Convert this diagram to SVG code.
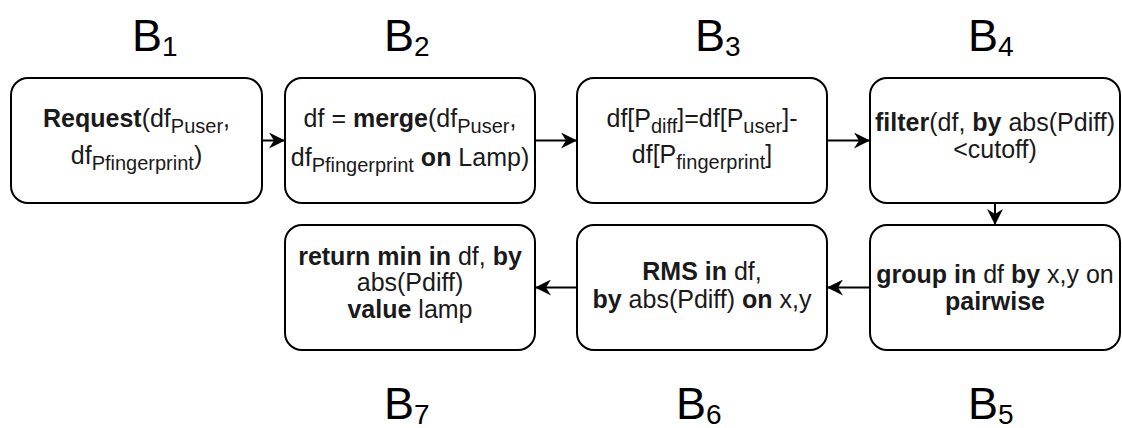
<svg xmlns="http://www.w3.org/2000/svg" width="1122" height="428" viewBox="0 0 1122 428">
<style>
.box{fill:#fff;stroke:#000;stroke-width:2}
.t{font-family:"Liberation Sans",Arial,sans-serif;font-size:25px;fill:#1a1a1a;text-anchor:middle}
.b{font-weight:bold}
.s{font-size:20px}
.lbl{font-family:"Liberation Sans",Arial,sans-serif;font-size:45px;fill:#000}
.lsub{font-size:28px}
.c{fill:none;stroke:#000;stroke-width:2}
</style>
<defs>
<marker id="ah" markerUnits="userSpaceOnUse" markerWidth="16" markerHeight="16" viewBox="0 0 16 16" refX="16" refY="8" orient="auto">
<path d="M0,0 L16,8 L0,16 L5,8 Z" fill="#000"/>
</marker>
</defs>
<g id="labels">
<text class="lbl" x="132" y="51">B<tspan class="lsub" dy="5">1</tspan></text>
<text class="lbl" x="384" y="51">B<tspan class="lsub" dy="5">2</tspan></text>
<text class="lbl" x="695" y="51">B<tspan class="lsub" dy="5">3</tspan></text>
<text class="lbl" x="968" y="51">B<tspan class="lsub" dy="5">4</tspan></text>
<text class="lbl" x="384" y="419">B<tspan class="lsub" dy="5">7</tspan></text>
<text class="lbl" x="676" y="419">B<tspan class="lsub" dy="5">6</tspan></text>
<text class="lbl" x="968" y="419">B<tspan class="lsub" dy="5">5</tspan></text>
</g>
<g id="connectors">
<path class="c" d="M262,140.5 H285" marker-end="url(#ah)"/>
<path class="c" d="M535,140.5 H577" marker-end="url(#ah)"/>
<path class="c" d="M827,140.5 H870" marker-end="url(#ah)"/>
<path class="c" d="M995,203 V225" marker-end="url(#ah)"/>
<path class="c" d="M870,287.5 H827" marker-end="url(#ah)"/>
<path class="c" d="M577,287.5 H535" marker-end="url(#ah)"/>
</g>
<g id="node1">
<rect class="box" x="11" y="78" width="251" height="125" rx="17"/>
<text class="t" x="136.5" y="127"><tspan class="b">Request</tspan>(df<tspan class="s" dy="6">Puser</tspan><tspan dy="-6">,</tspan></text>
<text class="t" x="136.5" y="164">df<tspan class="s" dy="6">Pfingerprint</tspan><tspan dy="-6">)</tspan></text>
</g>
<g id="node2">
<rect class="box" x="285" y="78" width="250" height="125" rx="17"/>
<text class="t" x="410" y="127">df = <tspan class="b">merge</tspan>(df<tspan class="s" dy="6">Puser</tspan><tspan dy="-6">,</tspan></text>
<text class="t" x="410" y="166">df<tspan class="s" dy="6">Pfingerprint</tspan><tspan dy="-6"> </tspan><tspan class="b">on</tspan> Lamp)</text>
</g>
<g id="node3">
<rect class="box" x="577" y="78" width="250" height="125" rx="17"/>
<text class="t" x="702" y="127">df[P<tspan class="s" dy="6">diff</tspan><tspan dy="-6">]=df[P</tspan><tspan class="s" dy="6">user</tspan><tspan dy="-6">]-</tspan></text>
<text class="t" x="702" y="163">df[P<tspan class="s" dy="6">fingerprint</tspan><tspan dy="-6">]</tspan></text>
</g>
<g id="node4">
<rect class="box" x="870" y="78" width="250" height="125" rx="17"/>
<text class="t" x="995" y="131"><tspan class="b">filter</tspan>(df, <tspan class="b">by</tspan> abs(Pdiff)</text>
<text class="t" x="995" y="158">&lt;cutoff)</text>
</g>
<g id="node5">
<rect class="box" x="870" y="225" width="250" height="125" rx="17"/>
<text class="t" x="995" y="283"><tspan class="b">group in</tspan> df <tspan class="b">by</tspan> x,y on</text>
<text class="t" x="995" y="310"><tspan class="b">pairwise</tspan></text>
</g>
<g id="node6">
<rect class="box" x="577" y="225" width="250" height="125" rx="17"/>
<text class="t" x="702" y="280"><tspan class="b">RMS in</tspan> df,</text>
<text class="t" x="702" y="308"><tspan class="b">by</tspan> abs(Pdiff) <tspan class="b">on</tspan> x,y</text>
</g>
<g id="node7">
<rect class="box" x="285" y="225" width="250" height="125" rx="17"/>
<text class="t" x="410" y="265"><tspan class="b">return min in</tspan> df, <tspan class="b">by</tspan></text>
<text class="t" x="410" y="291">abs(Pdiff)</text>
<text class="t" x="410" y="318"><tspan class="b">value</tspan> lamp</text>
</g>
</svg>
